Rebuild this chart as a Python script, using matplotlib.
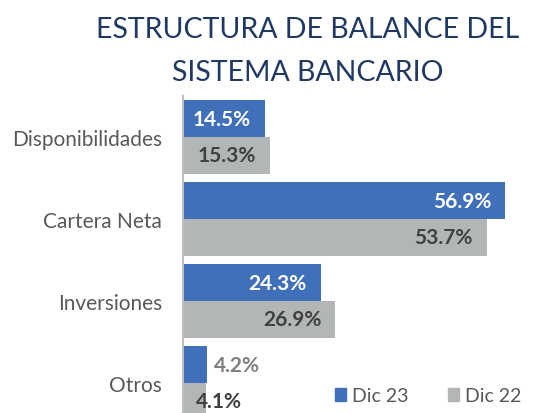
import matplotlib
matplotlib.use("Agg")
import matplotlib.pyplot as plt
from matplotlib.patches import Patch
import numpy as np

categories = ["Disponibilidades", "Cartera Neta", "Inversiones", "Otros"]
dic23 = [14.5, 56.9, 24.3, 4.2]
dic22 = [15.3, 53.7, 26.9, 4.1]
series_names = ["Dic 23", "Dic 22"]

BLUE = "#3F70B9"
GRAY = "#B3B6B6"
FONT = ["Lato", "DejaVu Sans"]

W, H = 536, 414
fig = plt.figure(figsize=(W / 100, H / 100), dpi=100)
ax = fig.add_axes([183 / W, 0, (W - 183) / W, 317 / H])

y = np.arange(len(categories))
bh = 0.45
b1 = ax.barh(y - bh / 2, dic23, height=bh, color=BLUE)
b2 = ax.barh(y + bh / 2, dic22, height=bh, color=GRAY)

ax.set_xlim(0, (W - 183) / 5.66)
ax.set_ylim(3.366, -0.5)
ax.set_yticks(y)
ax.set_yticklabels(categories, fontsize=15, color="#595959", family=FONT)
ax.tick_params(axis="y", length=0, pad=15)
ax.set_xticks([])
for s in ["top", "right", "bottom"]:
    ax.spines[s].set_visible(False)
ax.spines["left"].set_color("#BFBFBF")
ax.spines["left"].set_linewidth(1.5)

LS = 15
pad = 14 / 5.66
for i, v in enumerate(dic23):
    if v > 10:
        ax.text(v - pad, i - bh / 2, f"{v:.1f}%", ha="right", va="center",
                color="white", fontsize=LS, fontweight="bold", family=FONT)
    else:
        ax.text(v + 7 / 5.66, i - bh / 2, f"{v:.1f}%", ha="left", va="center",
                color="#7F7F7F", fontsize=LS, fontweight="bold", family=FONT)
for i, v in enumerate(dic22):
    if v > 10:
        ax.text(v - pad, i + bh / 2, f"{v:.1f}%", ha="right", va="center",
                color="#404040", fontsize=LS, fontweight="bold", family=FONT)
    else:
        ax.text(v - 10 / 5.66, i + bh / 2, f"{v:.1f}%", ha="left", va="center",
                color="#404040", fontsize=LS, fontweight="bold", family=FONT)

handles = [Patch(color=BLUE), Patch(color=GRAY)]
fig.legend(handles, series_names, loc="center", bbox_to_anchor=(428 / W, 1 - 397 / H),
           ncol=2, frameon=False, prop={"family": FONT, "size": 14},
           labelcolor="#595959", handlelength=0.6, handleheight=0.6,
           handletextpad=0.3, columnspacing=2.0)

fig.text(308 / W, 1 - 30 / H, "ESTRUCTURA DE BALANCE DEL", ha="center", va="center",
         fontsize=20.5, color="#1F3864", family=FONT)
fig.text(308 / W, 1 - 73 / H, "SISTEMA BANCARIO", ha="center", va="center",
         fontsize=20.5, color="#1F3864", family=FONT)

fig.savefig("out.png", dpi=100)
